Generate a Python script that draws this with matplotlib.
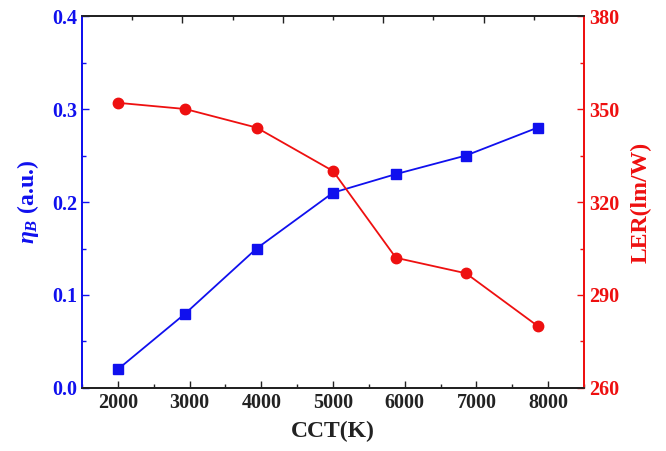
import matplotlib
matplotlib.use("Agg")
import matplotlib.pyplot as plt
from matplotlib.ticker import MultipleLocator

plt.rcParams['font.family'] = ['Liberation Serif', 'DejaVu Serif']
plt.rcParams['font.weight'] = 'bold'
plt.rcParams['mathtext.fontset'] = 'custom'
plt.rcParams['mathtext.it'] = 'Liberation Serif:italic:bold'
plt.rcParams['mathtext.rm'] = 'Liberation Serif:bold'
plt.rcParams['mathtext.bf'] = 'Liberation Serif:bold'

cct = [2000, 2940, 3935, 5000, 5877, 6854, 7853]
eta_b = [0.02, 0.08, 0.15, 0.21, 0.23, 0.25, 0.28]
ler = [352, 350, 344, 330, 302, 297, 280]
ler_ticks = [260, 290, 320, 350, 380]

blue = '#1010ee'
red = '#ee1010'

fig = plt.figure(figsize=(6.66, 4.51), dpi=100)
ax = fig.add_axes([0.123, 0.1397, 0.754, 0.8248])
ax2 = ax.twinx()
ax3 = ax.twiny()

ax.plot(cct, eta_b, color=blue, lw=1.3, marker='s', ms=6.5, mec=blue, mfc=blue, zorder=3)
ax2.plot(cct, ler, color=red, lw=1.3, marker='o', ms=7.5, mec=red, mfc=red, zorder=3)

ax.set_xlim(1500, 8500)
ax.set_ylim(0, 0.4)
ax2.set_ylim(260, 380)
ax3.set_xlim(0, 1)

ax.xaxis.set_major_locator(MultipleLocator(1000))
ax.xaxis.set_minor_locator(MultipleLocator(500))
ax.yaxis.set_major_locator(MultipleLocator(0.1))
ax.yaxis.set_minor_locator(MultipleLocator(0.05))
ax2.set_yticks(ler_ticks)
ax2.set_yticks([275, 305, 335, 365], minor=True)
ax3.set_xticks([0.2, 0.4, 0.6, 0.8])
ax3.set_xticks([0.1, 0.3, 0.5, 0.7, 0.9], minor=True)
ax3.set_xticklabels([])

for a in (ax, ax2, ax3):
    a.tick_params(which='major', direction='in', length=5, width=1.0, labelsize=14.5)
    a.tick_params(which='minor', direction='in', length=3, width=1.0)

ax.tick_params(axis='y', which='both', colors=blue, labelcolor=blue)
ax2.tick_params(axis='y', which='both', colors=red, labelcolor=red)
ax.tick_params(axis='x', which='both', colors='#222222', labelcolor='#222222')
ax3.tick_params(axis='x', which='both', colors='#222222')

for a in (ax, ax2, ax3):
    a.spines['left'].set_color(blue)
    a.spines['right'].set_color(red)
    a.spines['top'].set_color('#222222')
    a.spines['bottom'].set_color('#222222')
    for s in a.spines.values():
        s.set_linewidth(1.2)

ax.set_xlabel('CCT(K)', fontsize=17, fontweight='bold', color='#222222', labelpad=6)
ax.set_ylabel(r'$\eta_B$ (a.u.)', fontsize=17, fontweight='bold', color=blue, labelpad=8)
ax2.set_ylabel('LER(lm/W)', fontsize=17, fontweight='bold', color=red, labelpad=8)

fig.savefig('out.png', dpi=100, facecolor='white')
